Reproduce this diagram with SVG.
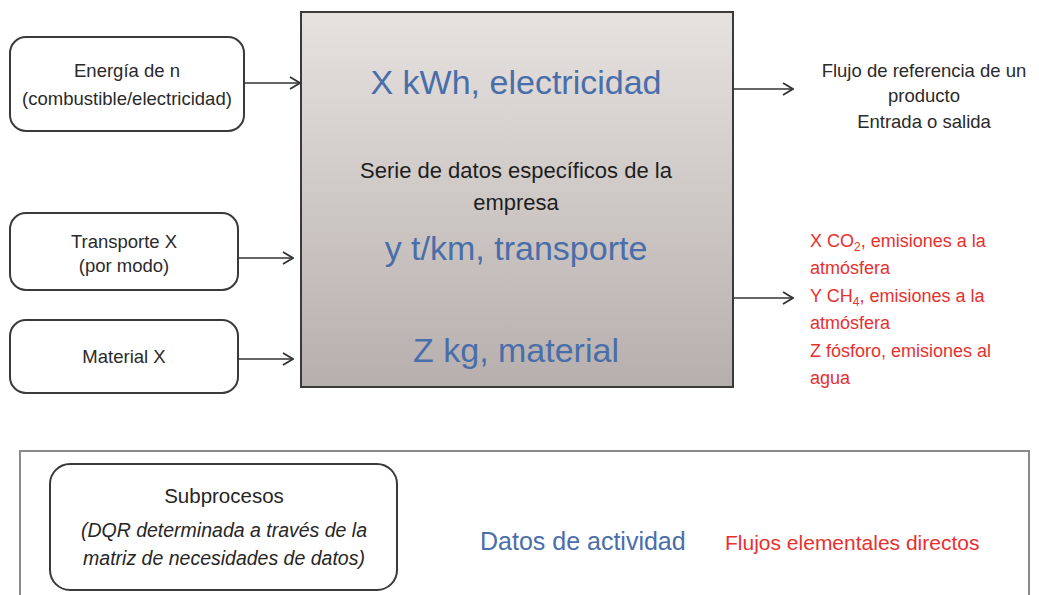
<svg xmlns="http://www.w3.org/2000/svg" width="1039" height="595" viewBox="0 0 1039 595">
<style>
text{font-family:"Liberation Sans",Arial,sans-serif}
.box{fill:#fff;stroke:#3a3a3a;stroke-width:2}
.lbl{font-size:18.5px;fill:#2a2a2a;text-anchor:middle}
.big{font-size:34px;fill:#4a6ea9;text-anchor:middle}
.mid{font-size:22px;fill:#1e1e1e;text-anchor:middle}
.red{font-size:18px;fill:#e8302e}
.con{stroke:#333;stroke-width:1.6;fill:none;marker-end:url(#arr)}
</style>
<defs>
<linearGradient id="g" x1="0" y1="0" x2="0" y2="1">
<stop offset="0" stop-color="#e6e2df"/>
<stop offset="1" stop-color="#b7afad"/>
</linearGradient>
<marker id="arr" viewBox="0 0 12 14" refX="11" refY="7" markerWidth="12" markerHeight="14" markerUnits="userSpaceOnUse" orient="auto">
<path d="M1,1 L11,7 L1,13" fill="none" stroke="#333" stroke-width="1.8"/>
</marker>
</defs>

<g id="energia">
<rect class="box" x="10" y="37" width="234" height="94" rx="16"/>
<text class="lbl" x="127" y="77">Energía de n</text>
<text class="lbl" x="127" y="105">(combustible/electricidad)</text>
</g>
<g id="transporte">
<rect class="box" x="10" y="213" width="228" height="77" rx="16"/>
<text class="lbl" x="124" y="248">Transporte X</text>
<text class="lbl" x="124" y="272">(por modo)</text>
</g>
<g id="material">
<rect class="box" x="10" y="320" width="228" height="73" rx="16"/>
<text class="lbl" x="124" y="363">Material X</text>
</g>

<g id="proceso">
<rect x="301" y="12" width="432" height="375" fill="url(#g)" stroke="#3a3a3a" stroke-width="2"/>
<text class="big" x="516" y="94">X kWh, electricidad</text>
<text class="mid" x="516" y="178">Serie de datos específicos de la</text>
<text class="mid" x="516" y="210">empresa</text>
<text class="big" x="516" y="260">y t/km, transporte</text>
<text class="big" x="516" y="362">Z kg, material</text>
</g>

<g id="flujo-referencia">
<text class="lbl" x="924" y="77">Flujo de referencia de un</text>
<text class="lbl" x="924" y="102">producto</text>
<text class="lbl" x="924" y="128">Entrada o salida</text>
</g>

<g id="emisiones">
<text class="red" x="810" y="247">X CO<tspan font-size="12" dy="4">2</tspan><tspan dy="-4">, emisiones a la</tspan></text>
<text class="red" x="810" y="274">atmósfera</text>
<text class="red" x="810" y="302">Y CH<tspan font-size="12" dy="4">4</tspan><tspan dy="-4">, emisiones a la</tspan></text>
<text class="red" x="810" y="329">atmósfera</text>
<text class="red" x="810" y="357">Z fósforo, emisiones al</text>
<text class="red" x="810" y="384">agua</text>
</g>

<g id="connectors">
<line class="con" x1="244" y1="83" x2="300" y2="83"/>
<line class="con" x1="238" y1="258" x2="293" y2="258"/>
<line class="con" x1="238" y1="359" x2="293" y2="359"/>
<line class="con" x1="733" y1="89" x2="793" y2="89"/>
<line class="con" x1="733" y1="298" x2="793" y2="298"/>
</g>

<g id="leyenda">
<rect x="20" y="451" width="1009" height="160" fill="#fff" stroke="#8a8a8e" stroke-width="2"/>
<g id="subprocesos">
<rect class="box" x="50" y="464" width="347" height="126" rx="20"/>
<text x="224" y="503" font-size="20.5" fill="#262626" text-anchor="middle">Subprocesos</text>
<text x="224" y="537" font-size="19.5" font-style="italic" fill="#262626" text-anchor="middle">(DQR determinada a través de la</text>
<text x="224" y="565" font-size="19.5" font-style="italic" fill="#262626" text-anchor="middle">matriz de necesidades de datos)</text>
</g>
<text x="480" y="550" font-size="25" fill="#4a6ea9">Datos de actividad</text>
<text x="725" y="550" font-size="21" fill="#e8302e">Flujos elementales directos</text>
</g>
</svg>
